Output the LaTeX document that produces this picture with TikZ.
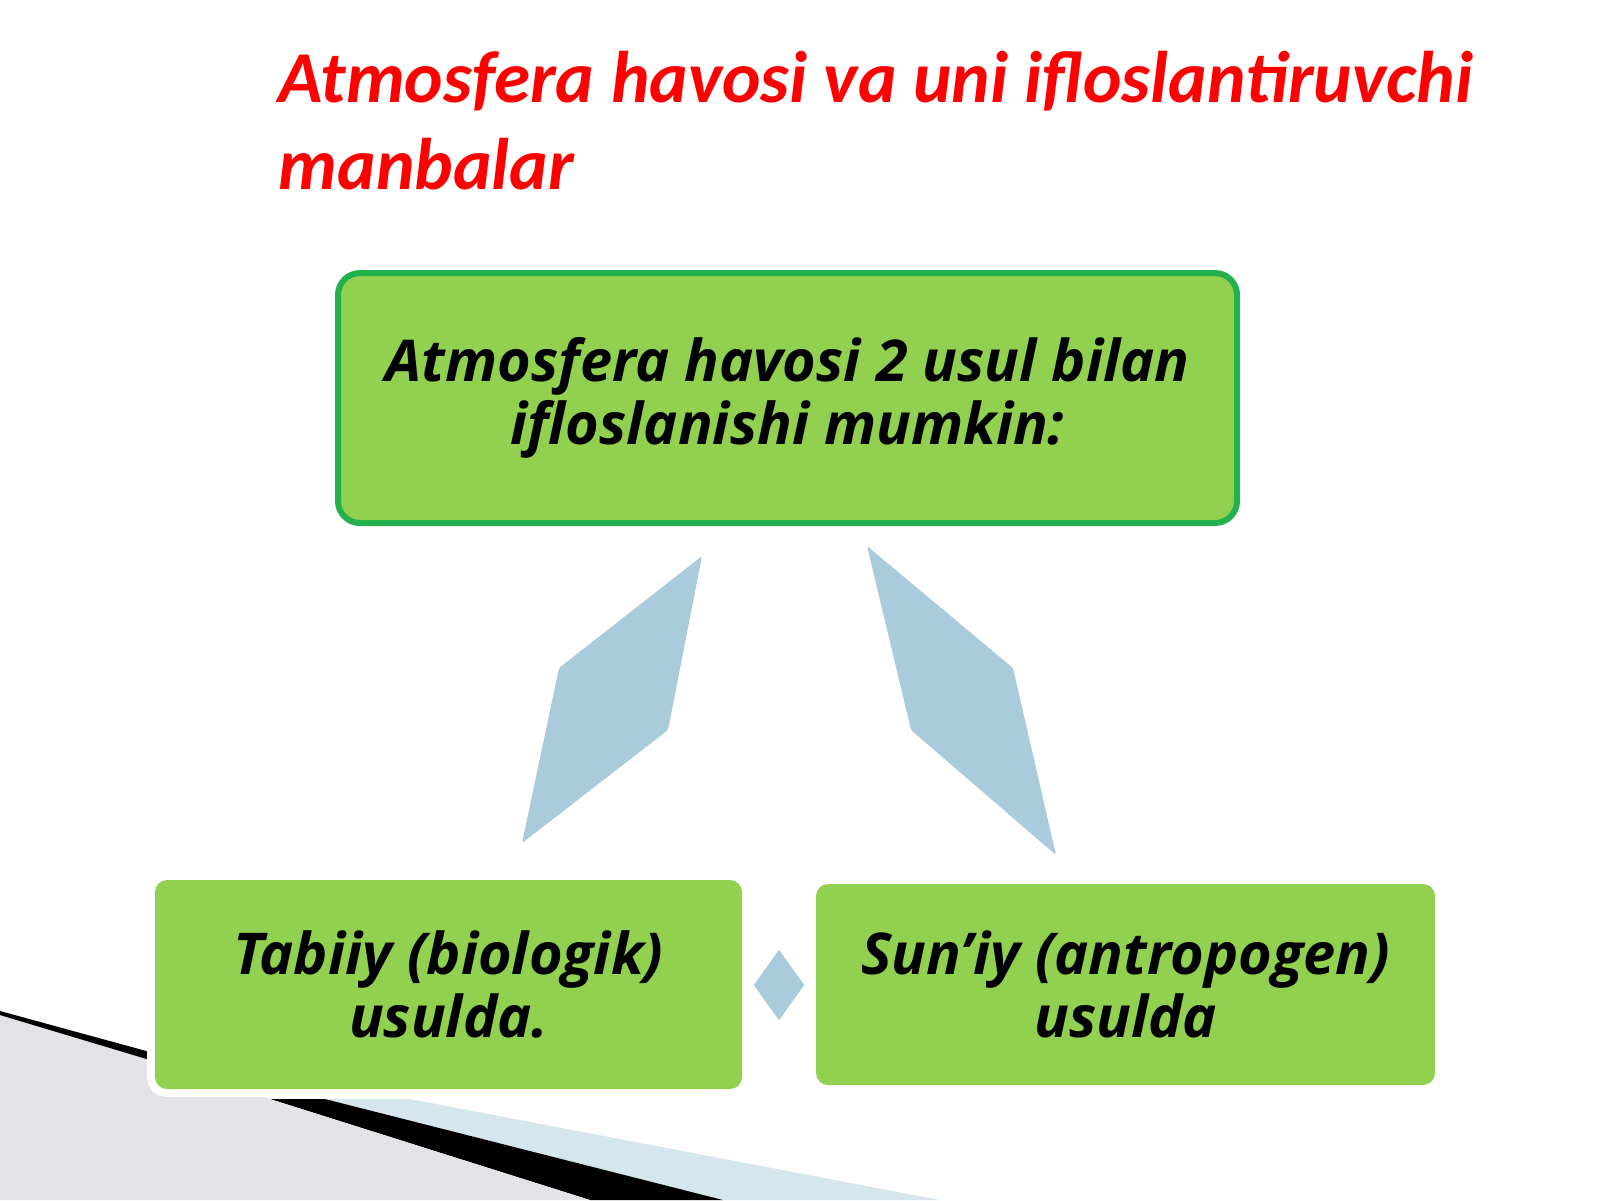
\documentclass[tikz,border=0pt]{standalone}
\usepackage{fontspec}
\setmainfont{Carlito}
\newfontfamily\boxfont{Open Sans}
\usetikzlibrary{positioning,shapes.geometric}

\definecolor{boxgreen}{RGB}{146,208,80}
\definecolor{rimgreen}{RGB}{34,177,76}
\definecolor{arrowblue}{RGB}{170,203,219}
\definecolor{bandblue}{RGB}{213,230,238}
\definecolor{paper}{RGB}{226,226,231}

\begin{document}
\begin{tikzpicture}[x=1cm, y=-1cm,
    title/.style={anchor=base west, inner sep=0pt, text=red, font=\fontsize{20.8}{24}\selectfont\bfseries\itshape},
    method/.style={fill=boxgreen, rounded corners=0.12cm, align=center, inner sep=0pt,
        font=\boxfont\fontsize{16.4}{17.9}\selectfont\bfseries\itshape},
    glow/.style={preaction={draw=white, line width=0.16cm}},
    arrowpart/.style={fill=arrowblue, rounded corners=0.5pt}
]
\useasboundingbox (0,0) rectangle (16,12);

% Bottom left corner decoration
\fill[bandblue] (3.25,10.99) -- (4.10,10.99) -- (9.40,12) -- (7.23,12) -- cycle;
\fill[black] (2.70,10.99) -- (3.25,10.99) -- (7.23,12) -- (5.90,12) -- cycle;
\fill[paper] (0,10.15) -- (1.45,10.57) -- (2.70,10.99) -- (5.90,12) -- (0,12) -- cycle;
\fill[black] (0,10.11) -- (1.50,10.52) -- (1.50,10.60) -- (0,10.15) -- cycle;

% Title
\node[title] (title1) at (2.78,1.02) {Atmosfera havosi va uni ifloslantiruvchi};
\node[title] (title2) at (2.78,1.89) {manbalar};

% Boxes
\node[method, draw=rimgreen, line width=0.06cm, rounded corners=0.22cm,
      minimum width=8.99cm, minimum height=2.50cm] (main) at (7.875,3.98)
      {Atmosfera havosi 2 usul bilan\\ifloslanishi mumkin:};
\node[method, glow, minimum width=5.87cm, minimum height=2.09cm] (natural) at (4.485,9.845)
      {Tabiiy (biologik)\\usulda.};
\node[method, glow, minimum width=6.19cm, minimum height=2.01cm] (manmade) at (11.255,9.845)
      {Sun’iy (antropogen)\\usulda};

% Arrows of the cycle
\fill[arrowpart] (7.02,5.56) -- (6.68,7.30) -- (5.22,8.43) -- (5.59,6.68) -- cycle;
\fill[arrowpart] (8.67,5.46) -- (10.13,6.68) -- (10.56,8.55) -- (9.11,7.30) -- cycle;
\node[diamond, fill=arrowblue, inner sep=0pt, minimum width=0.51cm, minimum height=0.71cm]
      (link) at (7.79,9.85) {};

\end{tikzpicture}
\end{document}
